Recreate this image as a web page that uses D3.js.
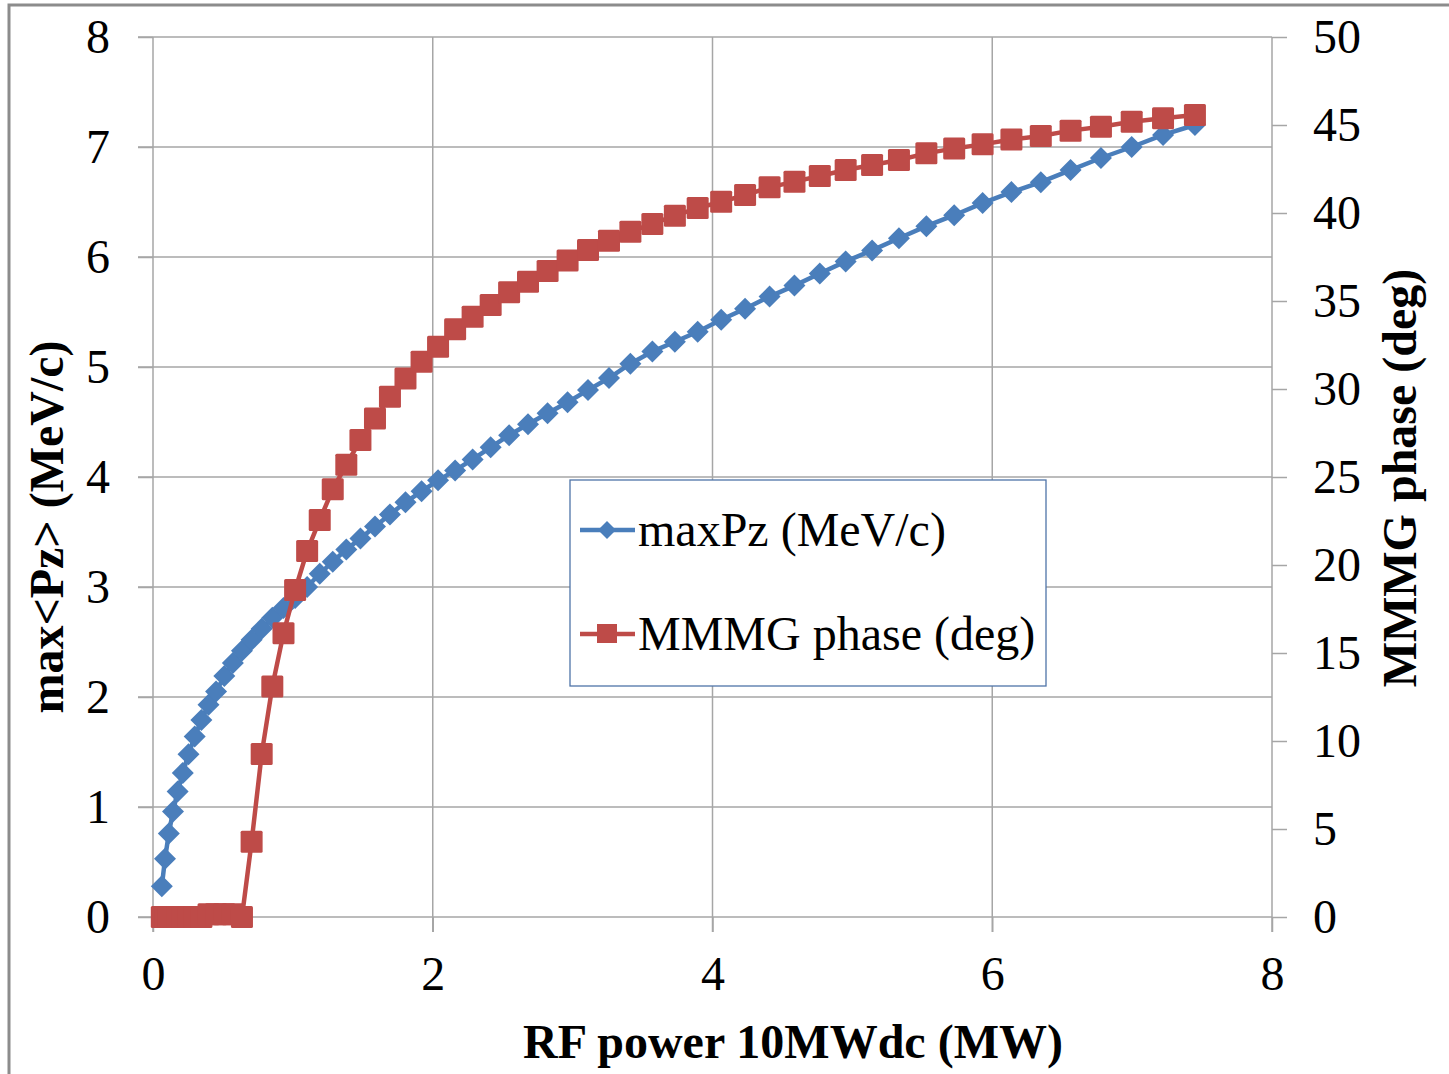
<!DOCTYPE html>
<html>
<head>
<meta charset="utf-8">
<script src="https://cdn.jsdelivr.net/npm/d3@7"></script>
<style>
  html, body { margin: 0; padding: 0; background: #fff; }
  svg text { font-family: "Liberation Serif", "Times New Roman", serif; fill: #000; }
</style>
</head>
<body>
<svg id="chart" width="1449" height="1074"></svg>
<script>
// RF power (MW), one point per step
var power = [0.063,0.086,0.113,0.143,0.176,0.213,0.254,0.298,0.346,0.397,
             0.451,0.510,0.571,0.636,0.705,0.777,0.853,0.933,1.016,1.102,
             1.192,1.285,1.382,1.483,1.587,1.694,1.805,1.920,2.038,2.160,
             2.285,2.414,2.546,2.681,2.821,2.964,3.110,3.260,3.413,3.570,
             3.731,3.894,4.062,4.233,4.408,4.586,4.767,4.952,5.141,5.333,
             5.529,5.728,5.931,6.137,6.347,6.560,6.777,6.997,7.221,7.449];

// max<Pz> in MeV/c (left axis)
var maxPz = [0.28,0.53,0.76,0.96,1.14,1.31,1.48,1.64,1.79,1.93,
             2.05,2.19,2.31,2.42,2.52,2.62,2.72,2.81,2.90,3.00,
             3.12,3.23,3.34,3.44,3.55,3.66,3.77,3.87,3.97,4.06,
             4.16,4.27,4.38,4.48,4.58,4.68,4.79,4.90,5.03,5.14,
             5.23,5.32,5.43,5.53,5.64,5.74,5.85,5.96,6.06,6.17,
             6.28,6.38,6.49,6.59,6.68,6.79,6.90,7.00,7.11,7.20];

// MMMG phase in deg (right axis)
var phase = [0,0,0,0,0,0,0,0,0,0.15,
             0.15,0.15,0.15,0,4.28,9.26,13.09,16.12,18.58,20.8,
             22.56,24.3,25.7,27.1,28.33,29.56,30.6,31.55,32.4,33.4,
             34.1,34.77,35.5,36.1,36.7,37.3,37.9,38.42,38.94,39.38,
             39.85,40.28,40.64,41.02,41.46,41.78,42.1,42.44,42.73,43.01,
             43.39,43.67,43.9,44.18,44.37,44.68,44.9,45.19,45.38,45.57];

var xTicks = [0,2,4,6,8];
var leftTicks = [0,1,2,3,4,5,6,7,8];
var rightTicks = [0,5,10,15,20,25,30,35,40,45,50];

var seriesNames = ["maxPz (MeV/c)", "MMMG phase (deg)"];
var blue = "#4a7ebb", red = "#be4b48", grid = "#a6a6a6";

var svg = d3.select("#chart");
var pLeft = 153, pRight = 1272, pTop = 37, pBottom = 917;

var x = d3.scaleLinear().domain([0, 8]).range([pLeft, pRight]);
var yL = d3.scaleLinear().domain([0, 8]).range([pBottom, pTop]);
var yR = d3.scaleLinear().domain([0, 50]).range([pBottom, pTop]);

// outer chart border
svg.append("rect")
    .attr("x", 9).attr("y", 5)
    .attr("width", 1460).attr("height", 1100)
    .attr("fill", "none")
    .attr("stroke", "#8c8c8c")
    .attr("stroke-width", 3);

// gridlines
var gg = svg.append("g");
gg.selectAll("line.h").data(leftTicks).enter()
    .append("line")
    .attr("x1", pLeft - 15).attr("x2", pRight)
    .attr("y1", function(d){ return yL(d); })
    .attr("y2", function(d){ return yL(d); })
    .style("stroke", grid).style("stroke-width", "1.5px");
gg.selectAll("line.v").data(xTicks).enter()
    .append("line")
    .attr("x1", function(d){ return x(d); })
    .attr("x2", function(d){ return x(d); })
    .attr("y1", pTop).attr("y2", pBottom + 15)
    .style("stroke", grid).style("stroke-width", "1.5px");

// axes
function styleAxis(g){
    g.attr("font-family", null);
    g.select(".domain").remove();
    g.selectAll(".tick line").style("stroke", grid).style("stroke-width", "1.5px");
    g.selectAll(".tick text").attr("font-size", 48).style("fill", "#000");
}

svg.append("g")
    .attr("transform", "translate(" + pLeft + ",0)")
    .call(d3.axisLeft(yL).tickValues(leftTicks).tickSize(15).tickPadding(28).tickFormat(d3.format("d")))
    .call(styleAxis);

svg.append("g")
    .attr("transform", "translate(" + pRight + ",0)")
    .call(d3.axisRight(yR).tickValues(rightTicks).tickSize(15).tickPadding(26).tickFormat(d3.format("d")))
    .call(styleAxis);

svg.append("g")
    .attr("transform", "translate(0," + pBottom + ")")
    .call(d3.axisBottom(x).tickValues(xTicks).tickSize(15).tickPadding(24).tickFormat(d3.format("d")))
    .call(styleAxis);

// axis titles
svg.append("text")
    .attr("x", 793).attr("y", 1058)
    .attr("text-anchor", "middle")
    .attr("font-size", 48).attr("font-weight", "bold")
    .text("RF power 10MWdc (MW)");

svg.append("text")
    .attr("transform", "translate(63,527) rotate(-90)")
    .attr("text-anchor", "middle")
    .attr("font-size", 48).attr("font-weight", "bold")
    .text("max<Pz> (MeV/c)");

svg.append("text")
    .attr("transform", "translate(1416,478) rotate(-90)")
    .attr("text-anchor", "middle")
    .attr("font-size", 48).attr("font-weight", "bold")
    .text("MMMG phase (deg)");

// series
var pzData = power.map(function(p, i){ return [p, maxPz[i]]; });
var phData = power.map(function(p, i){ return [p, phase[i]]; });

var diamond = function(r){ return "M0," + (-r) + "L" + r + ",0L0," + r + "L" + (-r) + ",0Z"; };

var lineL = d3.line().x(function(d){ return x(d[0]); }).y(function(d){ return yL(d[1]); });
var lineR = d3.line().x(function(d){ return x(d[0]); }).y(function(d){ return yR(d[1]); });

var sg = svg.append("g");
sg.append("path")
    .attr("d", lineL(pzData))
    .style("fill", "none").style("stroke", blue).style("stroke-width", "4.5px");
sg.append("g").selectAll("path").data(pzData).enter()
    .append("path")
    .attr("d", diamond(11))
    .attr("transform", function(d){ return "translate(" + x(d[0]) + "," + yL(d[1]) + ")"; })
    .style("fill", blue);

sg.append("path")
    .attr("d", lineR(phData))
    .style("fill", "none").style("stroke", red).style("stroke-width", "4.5px");
sg.append("g").selectAll("rect").data(phData).enter()
    .append("rect")
    .attr("x", function(d){ return x(d[0]) - 11; })
    .attr("y", function(d){ return yR(d[1]) - 11; })
    .attr("width", 22).attr("height", 22)
    .attr("rx", 1.5)
    .style("fill", red);

// legend
var lg = svg.append("g");
lg.append("rect")
    .attr("x", 570).attr("y", 480)
    .attr("width", 476).attr("height", 206)
    .attr("fill", "#fff")
    .attr("stroke", "#4f74a8").attr("stroke-width", 1.3);

var legendRows = [
    {name: seriesNames[0], color: blue, y: 530, mark: "diamond"},
    {name: seriesNames[1], color: red, y: 634, mark: "square"}
];
legendRows.forEach(function(r){
    lg.append("line")
        .attr("x1", 580).attr("x2", 635)
        .attr("y1", r.y).attr("y2", r.y)
        .style("stroke", r.color).style("stroke-width", "4.5px");
    if (r.mark == "diamond"){
        lg.append("path")
            .attr("d", diamond(9))
            .attr("transform", "translate(607," + r.y + ")")
            .style("fill", r.color);
    } else {
        lg.append("rect")
            .attr("x", 597).attr("y", r.y - 10)
            .attr("width", 20).attr("height", 19)
            .style("fill", r.color);
    }
    lg.append("text")
        .attr("x", 638).attr("y", r.y + 16)
        .attr("font-size", 48)
        .text(r.name);
});
</script>
</body>
</html>
